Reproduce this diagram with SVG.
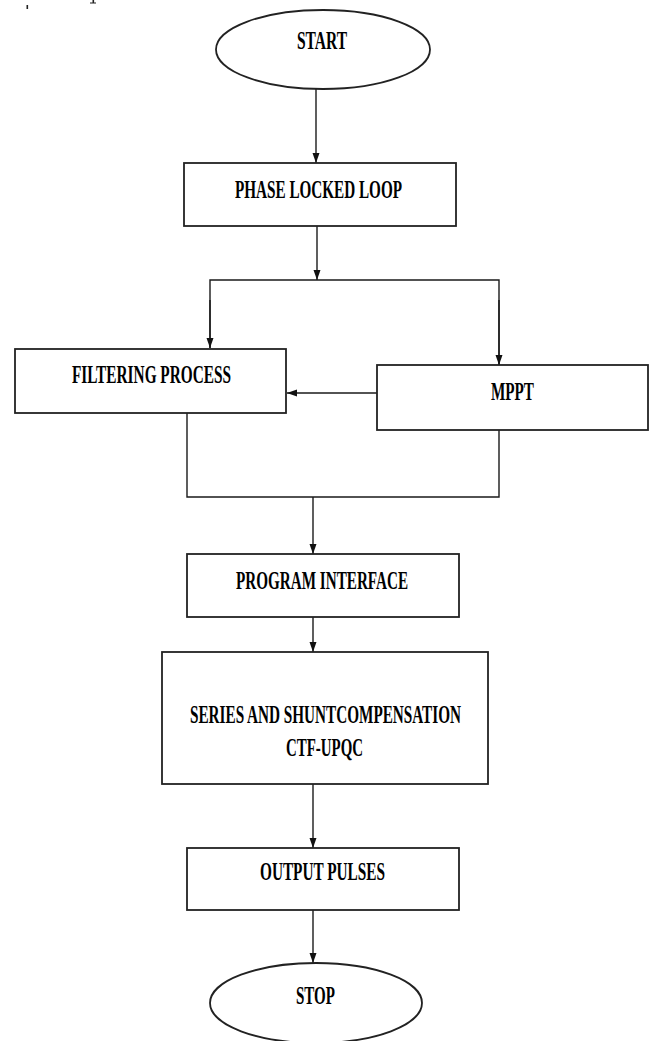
<svg xmlns="http://www.w3.org/2000/svg" width="653" height="1041" viewBox="0 0 653 1041">
<style>
.box{fill:#fff;stroke:#222;stroke-width:1.8}
.lbl{font-family:"Liberation Serif","Times New Roman",serif;font-weight:bold;font-size:26px;fill:#000;text-anchor:middle}
.ln{fill:none;stroke:#1a1a1a;stroke-width:1.4}
</style>
<defs>
<marker id="ah" viewBox="0 0 10 10" refX="10" refY="5" markerWidth="10" markerHeight="10" markerUnits="userSpaceOnUse" orient="auto">
<path d="M0,1.5 L10,5 L0,8.5 Z" fill="#111"/>
</marker>
</defs>
<rect width="653" height="1041" fill="#fff"/>
<g id="marks" fill="#222">
<rect x="26.5" y="5" width="1.6" height="4"/>
<rect x="92.5" y="0" width="1.6" height="3"/>
<rect x="90" y="2.5" width="6" height="1"/>
</g>
<g id="connectors">
<line class="ln" x1="316" y1="89" x2="316" y2="163" marker-end="url(#ah)"/>
<line class="ln" x1="317" y1="226" x2="317" y2="280" marker-end="url(#ah)"/>
<polyline class="ln" points="210,348 210,280 499,280 499,365"/>
<line class="ln" x1="210" y1="300" x2="210" y2="348" marker-end="url(#ah)"/>
<line class="ln" x1="499" y1="300" x2="499" y2="365" marker-end="url(#ah)"/>
<line class="ln" x1="377" y1="393" x2="287" y2="393" marker-end="url(#ah)"/>
<polyline class="ln" points="187,413 187,497 499,497 499,430"/>
<line class="ln" x1="313" y1="497" x2="313" y2="554" marker-end="url(#ah)"/>
<line class="ln" x1="313" y1="617" x2="313" y2="652" marker-end="url(#ah)"/>
<line class="ln" x1="313" y1="784" x2="313" y2="848" marker-end="url(#ah)"/>
<line class="ln" x1="313" y1="910" x2="313" y2="963" marker-end="url(#ah)"/>
</g>
<g id="start">
<ellipse class="box" cx="323" cy="49.5" rx="107" ry="39.5"/>
<text class="lbl" x="322" y="49" textLength="50" lengthAdjust="spacingAndGlyphs">START</text>
</g>
<g id="pll">
<rect class="box" x="184" y="163" width="272" height="63"/>
<text class="lbl" x="318.5" y="198" textLength="167" lengthAdjust="spacingAndGlyphs">PHASE LOCKED LOOP</text>
</g>
<g id="filtering">
<rect class="box" x="15" y="349" width="271" height="64"/>
<text class="lbl" x="151.5" y="383" textLength="159" lengthAdjust="spacingAndGlyphs">FILTERING PROCESS</text>
</g>
<g id="mppt">
<rect class="box" x="377" y="365" width="271" height="65"/>
<text class="lbl" x="512.5" y="400" textLength="43" lengthAdjust="spacingAndGlyphs">MPPT</text>
</g>
<g id="program">
<rect class="box" x="187" y="554" width="272" height="63"/>
<text class="lbl" x="322" y="589" textLength="172" lengthAdjust="spacingAndGlyphs">PROGRAM INTERFACE</text>
</g>
<g id="series">
<rect class="box" x="162" y="652" width="326" height="132"/>
<text class="lbl" x="325.5" y="723" textLength="271" lengthAdjust="spacingAndGlyphs">SERIES AND SHUNTCOMPENSATION</text>
<text class="lbl" x="324.5" y="756" textLength="77" lengthAdjust="spacingAndGlyphs">CTF-UPQC</text>
</g>
<g id="output">
<rect class="box" x="187" y="848" width="272" height="62"/>
<text class="lbl" x="322.5" y="880" textLength="125" lengthAdjust="spacingAndGlyphs">OUTPUT PULSES</text>
</g>
<g id="stop">
<ellipse class="box" cx="316" cy="1003" rx="106" ry="40"/>
<text class="lbl" x="315.5" y="1004" textLength="39" lengthAdjust="spacingAndGlyphs">STOP</text>
</g>
</svg>
